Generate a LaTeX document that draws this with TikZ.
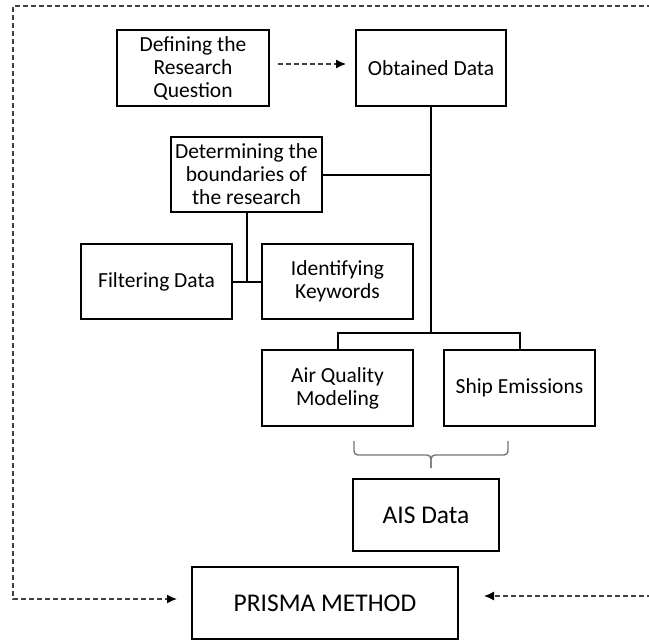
\documentclass[tikz,border=0pt]{standalone}
\usepackage{fontspec}
\setmainfont{Carlito}
\usetikzlibrary{arrows.meta}
\begin{document}
\begin{tikzpicture}[x=1pt,y=-1pt,
  boxnode/.style={draw=black,line width=2pt,align=center,inner sep=0pt,
    font=\fontsize{21.5}{23}\selectfont},
  bigbox/.style={boxnode,font=\fontsize{25.5}{28}\selectfont},
  conn/.style={draw=black,line width=2pt},
  dashline/.style={draw=black!75,line width=1.4pt,dash pattern=on 5pt off 3pt},
  tipped/.style={-{Latex[length=10pt,width=9pt,black]}},
  bracestyle/.style={draw=black!55,line width=1.4pt,rounded corners=4pt}]
\useasboundingbox (0,0) rectangle (649,640);
\node[boxnode,minimum width=152pt,minimum height=76pt] (def) at (193,68) {Defining the\\Research\\Question};
\node[boxnode,minimum width=150pt,minimum height=76pt] (obt) at (431,68) {Obtained Data};
\node[boxnode,minimum width=151pt,minimum height=75pt] (det) at (246.5,174.5) {Determining the\\boundaries of\\the research};
\node[boxnode,minimum width=151pt,minimum height=75pt] (fil) at (156.5,281.5) {Filtering Data};
\node[boxnode,minimum width=151pt,minimum height=75pt] (key) at (337.5,281.5) {Identifying\\Keywords};
\node[boxnode,minimum width=151pt,minimum height=76pt] (air) at (337.5,388) {Air Quality\\Modeling};
\node[boxnode,minimum width=151pt,minimum height=76pt] (ship) at (519.5,388) {Ship Emissions};
\node[bigbox,minimum width=146pt,minimum height=72pt] (ais) at (426,515) {AIS Data};
\node[bigbox,minimum width=266pt,minimum height=72pt] (pri) at (325,603) {PRISMA METHOD};
% connectors
\coordinate (branch) at (431,333);
\draw[conn] (obt.south) -- (branch);
\draw[conn] (det.east) -- (det.east -| branch);
\draw[conn] (air.north) |- (branch) -| (ship.north);
\draw[conn] (det.south) -- (det.south |- fil.east);
\draw[conn] (fil.east) -- (key.west);
% dashed arrows
\draw[dashline,tipped,shorten <=8pt,shorten >=9pt] ([yshift=4pt]def.east) -- ([yshift=4pt]obt.west);
\coordinate (tl) at (13,6);
\coordinate (tr) at (652,6);
\coordinate (bl) at (13,599);
\coordinate (br) at (652,596);
\draw[dashline,tipped,shorten >=14pt] (tr) -- (tl) -- (bl) -- (bl -| pri.west);
\draw[dashline,tipped,shorten >=25pt] (br) -- (br -| pri.east);
% brace
\draw[bracestyle] (354,441) -- (354,455) -- (431,455) -- (431,468);
\draw[bracestyle] (508,441) -- (508,455) -- (431,455) -- (431,468);
\end{tikzpicture}
\end{document}
